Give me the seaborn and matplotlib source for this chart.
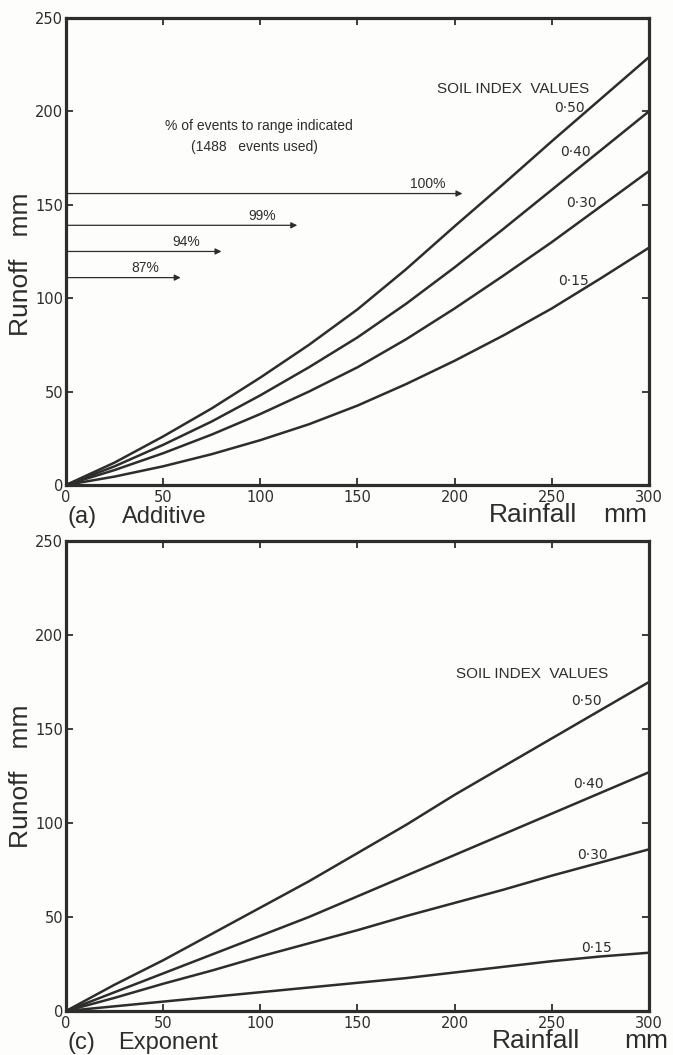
import matplotlib
matplotlib.use("Agg")
import matplotlib.pyplot as plt
import seaborn as sns
import pandas as pd

# Rainfall (mm) at which the runoff curves are tabulated
rainfall = [0, 25, 50, 75, 100, 125, 150, 175, 200, 225, 250, 275, 300]
soil_index = ["0·50", "0·40", "0·30", "0·15"]

# (a) Additive model: runoff (mm) for each soil index value
additive_050 = [0, 12, 26, 41, 57.5, 75, 94, 115.5, 138.5, 161, 184, 206.5, 229]
additive_040 = [0, 10, 21.5, 34, 48, 63, 79, 97, 116.5, 137, 158, 179, 200]
additive_030 = [0, 8, 17, 27, 38, 50, 63, 78, 94.5, 112, 130, 149, 168]
additive_015 = [0, 4.5, 10, 16.5, 24, 32.5, 42.5, 54, 66.5, 80, 94.5, 110.5, 127]

# (c) Exponent model: runoff (mm) for each soil index value
exponent_050 = [0, 14, 27, 41, 55, 69, 84, 99, 115, 130, 145, 160, 175]
exponent_040 = [0, 10, 20, 30, 40, 50, 61, 72, 83, 94, 105, 116, 127]
exponent_030 = [0, 7, 14.5, 21.5, 29, 36, 43, 50.5, 57.5, 64.5, 72, 79, 86]
exponent_015 = [0, 2.5, 5, 7.5, 10, 12.5, 15, 17.5, 20.5, 23.5, 26.5, 29, 31]

# Range arrows: share of the 1488 events reaching each runoff level
range_pct = ["100%", "99%", "94%", "87%"]
range_runoff = [156, 139, 125, 111]
range_rainfall = [204, 119, 80, 59]

INK = "#2d2d2b"
PAPER = "#fdfdfb"
NUMERAL_FONT = ["DejaVu Sans"]

sns.set_theme(style="white")
plt.rcParams["font.family"] = ["Liberation Sans", "DejaVu Sans"]
plt.rcParams["text.color"] = INK


def long_frame(series):
    rows = []
    for label, values in zip(soil_index, series):
        for r, q in zip(rainfall, values):
            rows.append({"Rainfall": r, "Runoff": q, "Soil index": label})
    return pd.DataFrame(rows)


def style_axes(ax):
    ax.set_xlim(0, 300)
    ax.set_ylim(0, 250)
    ax.set_xticks(range(0, 301, 50))
    ax.set_yticks(range(0, 251, 50))
    ax.set_facecolor(PAPER)
    for sp in ax.spines.values():
        sp.set_visible(True)
        sp.set_linewidth(2.3)
        sp.set_color(INK)
    ax.tick_params(axis="both", direction="in", length=5, width=1.3,
                   color=INK, labelcolor=INK, labelsize=10.5,
                   top=True, right=True, bottom=True, left=True,
                   labeltop=False, labelright=False)
    ax.tick_params(axis="y", pad=2)
    ax.tick_params(axis="x", pad=3.5)
    for lab in ax.get_xticklabels() + ax.get_yticklabels():
        lab.set_fontfamily(NUMERAL_FONT)
    ax.set_xlabel("")
    ax.set_ylabel("")


def draw_panel(ax, series, tag, model, runoff_y, rain_right, mm_right,
               soil_title, soil_pos):
    df = long_frame(series)
    sns.lineplot(data=df, x="Rainfall", y="Runoff", hue="Soil index",
                 palette=[INK] * len(soil_index), legend=False,
                 linewidth=1.8, estimator=None, sort=False, ax=ax)
    for ln in ax.get_lines():
        ln.set_solid_joinstyle("round")
    style_axes(ax)
    ax.text(0.003, -0.068, tag, transform=ax.transAxes, fontsize=17,
            ha="left", va="center", color=INK)
    ax.text(model[1], -0.068, model[0], transform=ax.transAxes, fontsize=17,
            ha="left", va="center", color=INK)
    ax.text(rain_right, -0.064, "Rainfall", transform=ax.transAxes,
            fontsize=19, ha="right", va="center", color=INK)
    ax.text(mm_right, -0.064, "mm", transform=ax.transAxes,
            fontsize=19, ha="right", va="center", color=INK)
    ax.text(-0.078, runoff_y, "Runoff   mm", transform=ax.transAxes,
            fontsize=19, rotation=90, ha="center", va="center", color=INK)
    ax.text(soil_title[0], soil_title[1], "SOIL INDEX  VALUES",
            fontsize=11, ha="center", va="center", color=INK)
    for label, (lx, ly) in zip(soil_index, soil_pos):
        ax.text(lx, ly, label, fontsize=10, ha="center", va="center",
                color=INK, family=NUMERAL_FONT)


fig = plt.figure(figsize=(6.73, 10.55), dpi=100, facecolor=PAPER)
ax_a = fig.add_axes([0.0981, 0.5403, 0.8662, 0.4427])
ax_c = fig.add_axes([0.0981, 0.0417, 0.8662, 0.4455])

draw_panel(ax_a,
           [additive_050, additive_040, additive_030, additive_015],
           "(a)", ("Additive", 0.096), 0.472, 0.876, 0.997,
           (230, 212), [(259, 202), (262, 178), (265, 151), (261, 109)])

draw_panel(ax_c,
           [exponent_050, exponent_040, exponent_030, exponent_015],
           "(c)", ("Exponent", 0.089), 0.499, 0.882, 1.033,
           (240, 179), [(268, 165), (269, 121), (271, 83), (273, 33.5)])

# Event-range arrows on the additive panel
ax_a.text(99, 192, "% of events to range indicated", fontsize=10,
          ha="center", va="center", color=INK)
ax_a.text(97, 181, "(1488   events used)", fontsize=10,
          ha="center", va="center", color=INK)
for pct, q, reach in zip(range_pct, range_runoff, range_rainfall):
    ax_a.annotate("", xy=(reach, q), xytext=(0, q),
                  arrowprops=dict(arrowstyle="-|>", color=INK, lw=0.9,
                                  mutation_scale=9, shrinkA=0, shrinkB=0))
    ax_a.text(reach - 18, q + 1.5, pct, fontsize=10, ha="center",
              va="bottom", color=INK)

fig.savefig("out.png", dpi=100, facecolor=PAPER)
